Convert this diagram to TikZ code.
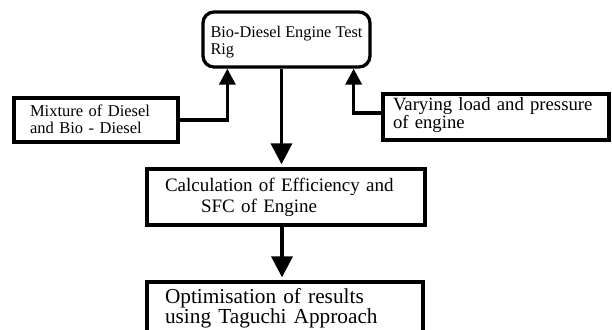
\documentclass[tikz,border=0pt]{standalone}
\usepackage{fontspec}
\setmainfont{Liberation Serif}
\usetikzlibrary{arrows.meta}

\begin{document}
\begin{tikzpicture}[x=1pt,y=-1pt,
  blk/.style={draw, line width=3.3pt, align=left, inner ysep=0pt},
  arr/.style={line width=3.5pt, -{Triangle[width=16pt,length=16pt]}},
  bigarr/.style={line width=3.5pt, -{Triangle[width=21pt,length=21pt]}, shorten >=3pt}]

\useasboundingbox (0,0) rectangle (612,329);
\clip (0,0) rectangle (612,329);

\node[blk, rounded corners=11pt, minimum width=167, minimum height=55, inner xsep=0, font=\fontsize{16.3}{16.5}\selectfont] (rig) at (286.5,39.5) {\rule{0pt}{17pt}Bio-Diesel Engine Test\\Rig};
\node[blk, minimum width=164, minimum height=44, text width=132, inner xsep=16, font=\fontsize{16.5}{17}\selectfont] (mix) at (96,120) {Mixture of Diesel\\and Bio - Diesel\rule[-2.3pt]{0pt}{2.3pt}};
\node[blk, minimum width=226, minimum height=46, text width=206, inner xsep=10, font=\fontsize{18.7}{18}\selectfont] (load) at (496,117) {Varying load and pressure\\of engine\rule[-8.8pt]{0pt}{8.8pt}};
\node[blk, minimum width=278, minimum height=56, text width=242, inner xsep=18, font=\fontsize{19}{21}\selectfont] (calc) at (286,197) {Calculation of Efficiency and\\\hspace*{36pt}SFC of Engine};
\node[blk, minimum width=276, minimum height=52, text width=240, inner xsep=18, font=\fontsize{21.3}{20}\selectfont] (opt) at (285,308) {Optimisation of results\\using Taguchi Approach};

% inputs to the test rig
\draw[arr] (mix.east) -| ([xshift=26]rig.south west);
\draw[arr] ([yshift=4]load.west) -| ([xshift=-18]rig.south east);
% main flow
\draw[bigarr] ([xshift=-5]rig.south) -- ([xshift=-5]rig.south |- calc.north);
\draw[bigarr] ([xshift=-4]calc.south) -- ([xshift=-4]calc.south |- opt.north);
\end{tikzpicture}
\end{document}
